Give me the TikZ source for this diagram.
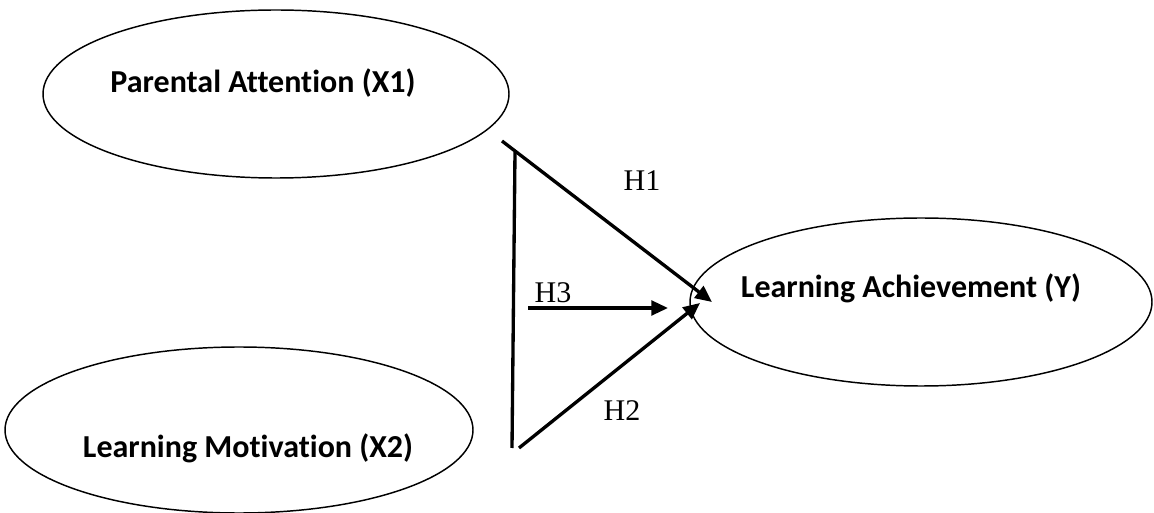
\documentclass[tikz,border=0pt]{standalone}
\usepackage{fontspec}
\setmainfont{Liberation Serif}
\newfontfamily\calib[Ligatures=NoCommon]{Carlito}
\usetikzlibrary{shapes.geometric,arrows.meta}
\tikzset{
  construct/.style={draw=black, line width=1.1pt, ellipse, inner sep=0pt},
  ctext/.style={font=\calib\bfseries\fontsize{24}{28}\selectfont, inner sep=0pt, anchor=base},
  hlabel/.style={font=\fontsize{22.5}{25}\selectfont, inner sep=0pt},
  path/.style={line width=2.5pt},
  patharrow/.style={line width=2.5pt, -{Triangle[length=12.5pt,width=11pt]}}
}
\begin{document}
\begin{tikzpicture}[x=0.75pt,y=-0.75pt]
\useasboundingbox (0,0) rectangle (1154,513);
% constructs
\node[construct, minimum width=349.5pt, minimum height=126pt] (x1) at (276,94) {};
\node[construct, minimum width=351pt, minimum height=124.5pt] (x2) at (239,430) {};
\node[construct, minimum width=346.5pt, minimum height=126pt] (y) at (921,302) {};
\node[ctext] (tx1) at (263,93) {Parental Attention (X1)};
\node[ctext] (tx2) at (248,457) {Learning Motivation (X2)};
\node[ctext] (ty) at (911,298) {Learning Achievement (Y)};
% connector points
\coordinate (h1s) at (502,141);
\coordinate (h1e) at (712,302);
\coordinate (vt) at (515,152);
\coordinate (vb) at (512,448);
\coordinate (h2s) at (519,448);
\coordinate (h2e) at (700,303);
\coordinate (h3s) at (528,308);
\coordinate (h3e) at (668,308);
\draw[patharrow] (h1s) -- (h1e);
\draw[path] (vt) -- (vb);
\draw[patharrow] (h2s) -- (h2e);
\draw[patharrow] (h3s) -- (h3e);
% labels
\node[hlabel] (lh1) at (642,181) {H1};
\node[hlabel] (lh3) at (553,293) {H3};
\node[hlabel] (lh2) at (622,411) {H2};
\end{tikzpicture}
\end{document}
